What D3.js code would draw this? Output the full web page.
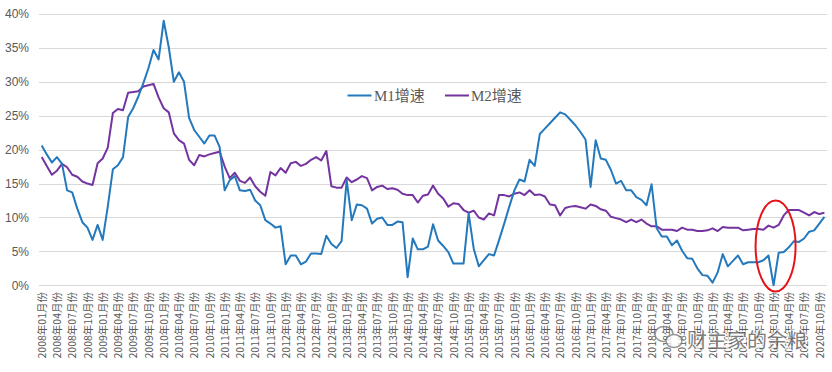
<!DOCTYPE html>
<html>
<head>
<meta charset="utf-8">
<script src="https://cdn.jsdelivr.net/npm/d3@7"></script>
<style>
  html, body { margin: 0; padding: 0; background: #ffffff; }
  svg { display: block; }
</style>
</head>
<body>
<svg id="chart" width="832" height="372"></svg>
<script>
// ---- data ----
const startYear = 2008;
const monthCount = 155; // 2008-01 .. 2020-11
const seriesNames = ["M1增速", "M2增速"];
const m1 = [20.6,19.3,18.1,18.9,17.9,14.0,13.7,11.3,9.3,8.5,6.7,8.9,
  6.7,11.6,17.1,17.7,18.9,24.8,26.1,27.8,29.8,32.0,34.7,33.3,
  39.0,35.1,30.0,31.4,30.0,24.7,22.9,21.9,20.9,22.1,22.1,20.4,
  14.0,15.5,16.1,14.0,13.9,14.1,12.5,11.8,9.6,9.1,8.5,8.7,
  3.1,4.4,4.4,3.1,3.5,4.7,4.7,4.6,7.3,6.1,5.5,6.5,
  15.5,9.6,11.9,11.8,11.3,9.1,9.8,10.0,8.9,8.9,9.4,9.3,
  1.2,6.9,5.3,5.3,5.7,9.0,6.6,5.8,4.9,3.2,3.2,3.2,
  10.6,5.4,2.8,3.7,4.6,4.4,6.7,9.1,11.6,14.0,15.6,15.3,
  18.5,17.6,22.3,23.1,23.9,24.7,25.5,25.2,24.4,23.6,22.6,21.5,
  14.5,21.4,18.7,18.5,17.0,15.0,15.4,14.0,14.0,13.0,12.6,11.8,
  14.9,8.4,7.2,7.2,5.9,6.6,5.1,4.0,3.9,2.5,1.5,1.4,
  0.4,1.9,4.6,2.8,3.6,4.4,3.1,3.4,3.4,3.4,3.7,4.4,
  0.0,4.8,4.9,5.6,6.5,6.4,6.9,7.9,8.1,9.1,10.1];
const m2 = [18.9,17.6,16.3,16.9,17.9,17.4,16.3,16.0,15.3,15.0,14.8,18.0,
  18.7,20.3,25.4,26.0,25.8,28.4,28.5,28.6,29.3,29.5,29.7,27.7,
  26.1,25.5,22.4,21.4,20.9,18.5,17.7,19.2,19.0,19.3,19.5,19.7,
  17.5,15.8,16.6,15.4,15.1,15.9,14.6,13.8,13.2,16.7,16.2,17.3,
  16.6,18.0,18.2,17.6,17.9,18.5,18.9,18.4,19.8,14.6,14.4,14.4,
  15.9,15.2,15.6,16.1,15.8,14.0,14.5,14.7,14.2,14.3,14.1,13.5,
  13.3,13.3,12.2,13.2,13.4,14.7,13.5,12.8,11.6,12.1,12.0,11.1,
  10.7,11.0,10.0,9.7,10.6,10.3,13.3,13.3,13.1,13.5,13.7,13.3,
  14.0,13.3,13.4,13.1,11.9,11.8,10.3,11.4,11.6,11.7,11.5,11.3,
  11.9,11.7,11.2,11.0,10.1,9.9,9.7,9.3,9.7,9.3,9.7,9.1,
  8.7,8.7,8.2,8.2,8.2,8.0,8.5,8.2,8.2,8.0,8.0,8.1,
  8.4,8.0,8.6,8.5,8.5,8.5,8.1,8.2,8.3,8.3,8.2,8.8,
  8.5,8.9,10.3,11.1,11.1,11.1,10.7,10.3,10.8,10.5,10.7];
const yTicks = [0, 5, 10, 15, 20, 25, 30, 35, 40];
const watermark = "财主家的余粮";

// categories: month labels
const categories = [];
for (let k = 0; k < monthCount; k++) {
  const y = startYear + Math.floor(k / 12);
  const m = (k % 12) + 1;
  categories.push(y + "年" + (m < 10 ? "0" + m : m) + "月份");
}
const tickLabels = categories.filter((d, k) => k % 3 === 0);

// ---- layout ----
const colors = ["#2479BD", "#7434A0"];
const svg = d3.select("#chart");
const x = d3.scalePoint().domain(categories).range([41.7, 824.4]);
const y = d3.scaleLinear().domain([0, 40]).range([285.3, 14]);
const gridLeft = 39, gridRight = 827;

// gridlines
svg.append("g").selectAll("line").data(yTicks).join("line")
  .attr("x1", gridLeft).attr("x2", gridRight)
  .attr("y1", d => Math.round(y(d)) + 0.5).attr("y2", d => Math.round(y(d)) + 0.5)
  .attr("stroke", "#d9d9d9").attr("stroke-width", 1);

// y axis labels
const yAxis = d3.axisLeft(y).tickValues(yTicks).tickFormat(d => d + "%").tickSize(0).tickPadding(0);
const gy = svg.append("g").attr("transform", "translate(29,0)").call(yAxis);
gy.select(".domain").remove();
gy.selectAll("text").attr("font-family", "'Liberation Sans', Arial, sans-serif")
  .attr("font-size", 12).attr("fill", "#595959");

// x axis labels
const xAxis = d3.axisBottom(x).tickValues(tickLabels).tickSize(0).tickPadding(0);
const gx = svg.append("g").attr("transform", "translate(0,292)").call(xAxis);
gx.select(".domain").remove();
gx.selectAll("text")
  .attr("font-family", "'Noto Sans CJK SC', 'Liberation Sans', sans-serif")
  .attr("font-size", 10.5).attr("fill", "#595959")
  .attr("text-anchor", "end")
  .attr("transform", "rotate(-90)")
  .attr("x", 0).attr("y", 0).attr("dy", "0.36em");

// lines
const line = d3.line().x((d, k) => x(categories[k])).y(d => y(d));
[m2, m1].forEach((s, idx) => {
  svg.append("path").datum(s)
    .attr("d", line).attr("fill", "none")
    .attr("stroke", idx === 0 ? colors[1] : colors[0])
    .attr("stroke-width", 2).attr("stroke-linejoin", "round");
});

// legend
const legend = svg.append("g");
const legendItems = [{x0: 347.5, tx: 374}, {x0: 445, tx: 471}];
seriesNames.forEach((name, idx) => {
  legend.append("line").attr("x1", legendItems[idx].x0).attr("x2", legendItems[idx].x0 + 24)
    .attr("y1", 95.5).attr("y2", 95.5).attr("stroke", colors[idx]).attr("stroke-width", 2);
  legend.append("text").attr("x", legendItems[idx].tx).attr("y", 101)
    .attr("font-family", "'Liberation Serif', 'Noto Sans CJK SC', serif")
    .attr("font-size", 15).attr("fill", "#595959").text(name);
});

// red ellipse highlight
svg.append("ellipse").attr("cx", x(categories[144]) + 2).attr("cy", 246)
  .attr("rx", 20).attr("ry", 45.5).attr("fill", "none")
  .attr("stroke", "#e3151a").attr("stroke-width", 2);

// watermark
const wm = svg.append("g").attr("opacity", 0.75);
wm.append("ellipse").attr("cx", 664).attr("cy", 334).attr("rx", 9).attr("ry", 7.5)
  .attr("fill", "none").attr("stroke", "#777").attr("stroke-width", 1.5);
wm.append("ellipse").attr("cx", 674).attr("cy", 341).attr("rx", 8).attr("ry", 6.5)
  .attr("fill", "#fff").attr("stroke", "#777").attr("stroke-width", 1.5);
wm.append("text").attr("x", 687).attr("y", 348)
  .attr("font-family", "'Noto Sans CJK SC', sans-serif").attr("font-size", 20)
  .attr("fill", "#555").attr("stroke", "#fff").attr("stroke-width", 2.5)
  .attr("paint-order", "stroke").text(watermark);
</script>
</body>
</html>
